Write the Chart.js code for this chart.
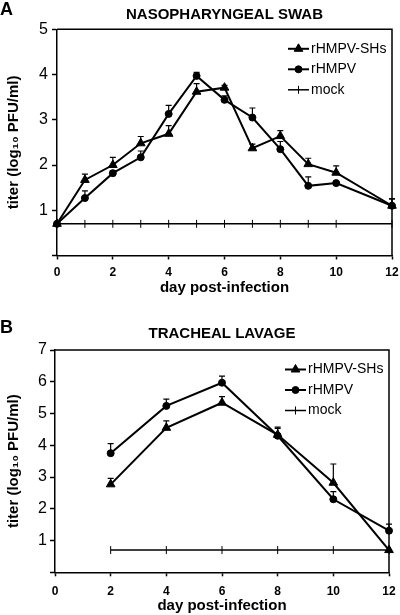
<!DOCTYPE html>
<html>
<head>
<meta charset="utf-8">
<script src="https://cdn.jsdelivr.net/npm/chart.js@4.4.1/dist/chart.umd.min.js"></script>
<style>
  body { margin: 0; background: #fff; }
  .panel { position: absolute; left: 0; width: 400px; }
</style>
</head>
<body>
<div class="panel" style="top:0;height:300px"><canvas id="chartA" width="400" height="300"></canvas></div>
<div class="panel" style="top:300px;height:315px"><canvas id="chartB" width="400" height="315"></canvas></div>
<script>
// Panel A - nasopharyngeal swab
const daysA = [0, 1, 2, 3, 4, 5, 6, 7, 8, 9, 10, 12];
const shsA = [0.7, 1.67, 2.0, 2.48, 2.69, 3.62, 3.71, 2.37, 2.64, 2.02, 1.83, 1.1];
const shsErrA = [0, 0.13, 0.17, 0.15, 0.18, 0.18, 0.05, 0.09, 0.12, 0.13, 0.15, 0.15];
const hmpvA = [0.7, 1.27, 1.82, 2.17, 3.13, 3.97, 3.44, 3.05, 2.35, 1.54, 1.6, 1.1];
const hmpvErrA = [0, 0.16, 0.05, 0.14, 0.19, 0.08, 0.09, 0.21, 0.17, 0.2, 0, 0.15];
const mockA = [0.7, 0.7, 0.7, 0.7, 0.7, 0.7, 0.7, 0.7, 0.7, 0.7, 0.7, 0.7];

// Panel B - tracheal lavage
const daysB = [2, 4, 6, 8, 10, 12];
const shsB = [2.77, 4.55, 5.34, 4.33, 2.82, 0.7];
const shsErrB = [0.19, 0.22, 0.19, 0.2, 0.59, 0];
const hmpvB = [3.75, 5.24, 5.97, 4.3, 2.3, 1.31];
const hmpvErrB = [0.3, 0.21, 0.21, 0.27, 0.24, 0.21];
const mockB = [0.7, 0.7, 0.7, 0.7, 0.7, 0.7];

const seriesNames = ["rHMPV-SHs", "rHMPV", "mock"];

Chart.defaults.font.family = "'Liberation Sans', Arial, sans-serif";
Chart.defaults.color = "#000";

function pts(days, vals) {
    return days.map((d, i) => ({ x: d, y: vals[i] }));
}

// upper-only error bars with a small cap
const errorBars = {
    id: "errorBars",
    beforeDatasetsDraw(chart) {
        const ctx = chart.ctx;
        const yScale = chart.scales.y;
        chart.data.datasets.forEach((ds, i) => {
            if (!ds.errors) return;
            const meta = chart.getDatasetMeta(i);
            ctx.save();
            ctx.strokeStyle = "#000";
            ctx.lineWidth = 1.2;
            meta.data.forEach((pt, j) => {
                const err = ds.errors[j];
                if (!err) return;
                const top = yScale.getPixelForValue(ds.data[j].y + err);
                ctx.beginPath();
                ctx.moveTo(pt.x, pt.y);
                ctx.lineTo(pt.x, top);
                ctx.moveTo(pt.x - 3, top);
                ctx.lineTo(pt.x + 3, top);
                ctx.stroke();
            });
            ctx.restore();
        });
    }
};

// top and right edges of the plot box
const frame = {
    id: "frame",
    beforeDatasetsDraw(chart) {
        const { ctx, chartArea: a } = chart;
        ctx.save();
        ctx.strokeStyle = "#000";
        ctx.lineWidth = 1.5;
        ctx.beginPath();
        ctx.moveTo(a.left, a.top);
        ctx.lineTo(a.right, a.top);
        ctx.lineTo(a.right, a.bottom);
        ctx.stroke();
        ctx.restore();
    }
};

// legend inside the plot, top right: line sample + marker + name
const boxLegend = {
    id: "boxLegend",
    afterDraw(chart, args, opts) {
        const { ctx, chartArea: a } = chart;
        ctx.save();
        ctx.font = "14px 'Liberation Sans', Arial, sans-serif";
        ctx.textBaseline = "middle";
        chart.data.datasets.forEach((ds, i) => {
            const y = a.top + opts.rowTop + i * opts.rowGap;
            const x0 = a.right - opts.fromRight;
            ctx.strokeStyle = "#000";
            ctx.fillStyle = "#000";
            ctx.lineWidth = ds.borderWidth;
            ctx.beginPath();
            ctx.moveTo(x0, y);
            ctx.lineTo(x0 + opts.sample, y);
            ctx.stroke();
            ctx.lineWidth = ds.pointBorderWidth;
            Chart.helpers.drawPoint(ctx, {
                pointStyle: ds.pointStyle,
                rotation: ds.pointRotation || 0,
                radius: ds.pointRadius,
                borderWidth: ds.pointBorderWidth
            }, x0 + opts.sample / 2, y);
            ctx.fillStyle = "#000";
            ctx.fillText(ds.label, x0 + opts.sample + 2, y);
        });
        ctx.restore();
    }
};

const panelLetter = {
    id: "panelLetter",
    afterDraw(chart, args, opts) {
        const ctx = chart.ctx;
        ctx.save();
        ctx.font = "bold 18px 'Liberation Sans', Arial, sans-serif";
        ctx.fillStyle = "#000";
        ctx.textBaseline = "middle";
        ctx.fillText(opts.text, 0, opts.y);
        ctx.restore();
    }
};

function makeChart(id, cfg) {
    const axisBorder = { display: true, color: "#000", width: 1.5 };
    return new Chart(document.getElementById(id), {
        type: "line",
        data: {
            datasets: [
                {
                    label: seriesNames[0],
                    data: pts(cfg.days, cfg.shs),
                    errors: cfg.shsErr,
                    borderColor: "#000",
                    backgroundColor: "#000",
                    borderWidth: 2,
                    pointStyle: "triangle",
                    pointRadius: 5,
                    pointBorderWidth: 1,
                    clip: false
                },
                {
                    label: seriesNames[1],
                    data: pts(cfg.days, cfg.hmpv),
                    errors: cfg.hmpvErr,
                    borderColor: "#000",
                    backgroundColor: "#000",
                    borderWidth: 2,
                    pointStyle: "circle",
                    pointRadius: 3.5,
                    pointBorderWidth: 1,
                    clip: false
                },
                {
                    label: seriesNames[2],
                    data: pts(cfg.days, cfg.mock),
                    borderColor: "#000",
                    backgroundColor: "#000",
                    borderWidth: 1.5,
                    pointStyle: "line",
                    pointRotation: 90,
                    pointRadius: 4,
                    pointBorderWidth: 1,
                    clip: false
                }
            ]
        },
        options: {
            responsive: false,
            animation: false,
            events: [],
            layout: { padding: { left: 0, right: cfg.padRight, top: 0, bottom: 0 } },
            plugins: {
                legend: { display: false },
                tooltip: { enabled: false },
                title: {
                    display: true,
                    text: cfg.title,
                    fullSize: false,
                    color: "#000",
                    font: { size: 15, weight: "bold", lineHeight: 1.2 },
                    padding: { top: cfg.titleTop, bottom: cfg.titleBottom }
                },
                boxLegend: { rowTop: 19.5, rowGap: 20.5, fromRight: 104, sample: 21 },
                panelLetter: { text: cfg.letter, y: cfg.letterY }
            },
            scales: {
                x: {
                    type: "linear",
                    min: 0,
                    max: 12,
                    ticks: { stepSize: 2, padding: cfg.xPad, color: "#000", font: { size: 12, weight: "bold" } },
                    grid: { drawOnChartArea: false, tickLength: 4, tickColor: "#000", tickWidth: 1.5 },
                    border: axisBorder,
                    title: {
                        display: true,
                        text: "day post-infection",
                        color: "#000",
                        font: { size: 15, weight: "bold", lineHeight: 1.2 },
                        padding: { top: 0, bottom: cfg.xTitleBottom }
                    },
                    afterFit: s => {
                        s.height = cfg.xHeight;
                        s.paddingLeft = 0;
                        s.paddingRight = 0;
                    }
                },
                y: {
                    min: 0,
                    max: cfg.yMax,
                    ticks: {
                        stepSize: 1,
                        padding: cfg.yPad,
                        color: "#000",
                        font: { size: 16 },
                        callback: v => v === 0 ? "" : v
                    },
                    grid: { drawOnChartArea: false, tickLength: 5, tickColor: "#000", tickWidth: 1.5 },
                    border: axisBorder,
                    title: {
                        display: true,
                        text: "titer (log\u2081\u2080 PFU/ml)",
                        color: "#000",
                        font: { size: 15, weight: "bold", lineHeight: 1.2 },
                        padding: { top: 5, bottom: 0 }
                    },
                    afterFit: s => { s.width = cfg.yWidth; }
                }
            }
        },
        plugins: [errorBars, frame, boxLegend, panelLetter]
    });
}

makeChart("chartA", {
    days: daysA, shs: shsA, shsErr: shsErrA, hmpv: hmpvA, hmpvErr: hmpvErrA, mock: mockA,
    title: "NASOPHARYNGEAL SWAB", letter: "A", letterY: 10,
    yMax: 5, yWidth: 57, yPad: 4, xHeight: 44.5, xPad: 6, xTitleBottom: 3.5,
    padRight: 8, titleTop: 6, titleBottom: 5.3
});

makeChart("chartB", {
    days: daysB, shs: shsB, shsErr: shsErrB, hmpv: hmpvB, hmpvErr: hmpvErrB, mock: mockB,
    title: "TRACHEAL LAVAGE", letter: "B", letterY: 28,
    yMax: 7, yWidth: 55, yPad: 3, xHeight: 42.7, xPad: 8.5, xTitleBottom: 0,
    padRight: 11, titleTop: 24.5, titleBottom: 7.5
});
</script>
</body>
</html>
